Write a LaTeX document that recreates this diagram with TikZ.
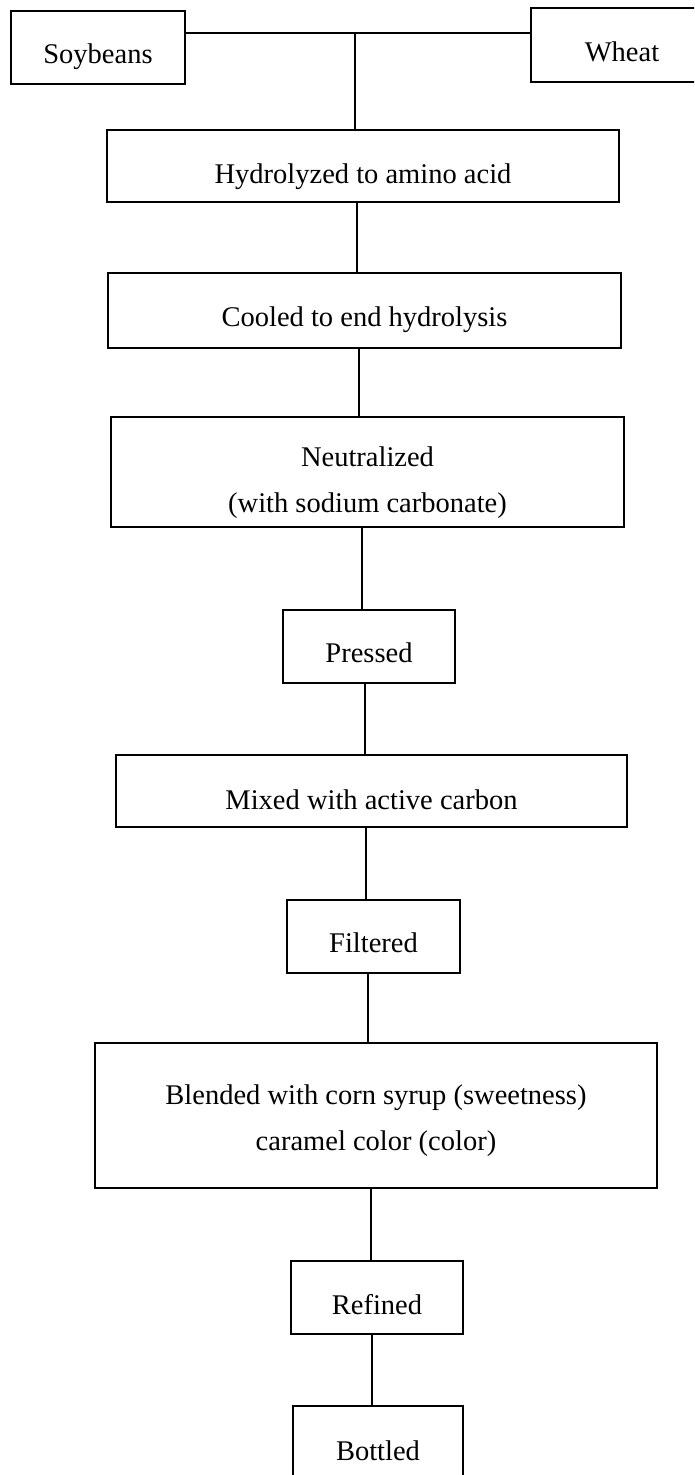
\documentclass[tikz,border=0pt]{standalone}
\usepackage{fontspec}
\setmainfont{Liberation Serif}
\begin{document}
\begin{tikzpicture}[x=1pt,y=-1pt,
  procbox/.style={draw=black, line width=1.6pt, inner sep=0pt},
  txt/.style={align=center, inner sep=0pt, font={\fontsize{28.5}{46}\selectfont}},
  link/.style={draw=black, line width=1.6pt}]
\clip (0,0) rectangle (694,1475);
\fill[white] (0,0) rectangle (694,1475);
\useasboundingbox (0,0) rectangle (694,1475);

\node[procbox, minimum width=174pt, minimum height=73pt,
  label={[txt, name=soyT, yshift=-9pt]center:Soybeans}] (soy) at (98,47.5) {};
\node[procbox, minimum width=182pt, minimum height=74pt,
  label={[txt, name=wheatT, yshift=-7pt]center:Wheat}] (wheat) at (622,45) {};
\node[procbox, minimum width=512pt, minimum height=72pt,
  label={[txt, name=hydT, yshift=-11pt]center:Hydrolyzed to amino acid}] (hyd) at (363,166) {};
\node[procbox, minimum width=513pt, minimum height=75pt,
  label={[txt, name=coolT, yshift=-9pt]center:Cooled to end hydrolysis}] (cool) at (364.5,310.5) {};
\node[procbox, minimum width=513pt, minimum height=110pt,
  label={[txt, name=neutT, yshift=-11pt]center:Neutralized\\(with sodium carbonate)}] (neut) at (367.5,472) {};
\node[procbox, minimum width=172pt, minimum height=73pt,
  label={[txt, name=pressT, yshift=-6pt]center:Pressed}] (press) at (369,646.5) {};
\node[procbox, minimum width=511pt, minimum height=72pt,
  label={[txt, name=mixT, yshift=-9pt]center:Mixed with active carbon}] (mix) at (371.5,791) {};
\node[procbox, minimum width=173pt, minimum height=73pt,
  label={[txt, name=filtT, yshift=-6pt]center:Filtered}] (filt) at (373.5,936.5) {};
\node[procbox, minimum width=562pt, minimum height=145pt,
  label={[txt, name=blendT, yshift=-5pt]center:Blended with corn syrup (sweetness)\\caramel color (color)}] (blend) at (376,1115.5) {};
\node[procbox, minimum width=172pt, minimum height=73pt,
  label={[txt, name=refT, yshift=-7pt]center:Refined}] (ref) at (377,1297.5) {};
\node[procbox, minimum width=170pt, minimum height=88pt,
  label={[txt, name=bottT, yshift=-1pt]center:Bottled}] (bott) at (378,1450) {};

\coordinate (j) at (355,33);
\coordinate (c1) at (357,0);
\coordinate (c2) at (359,0);
\coordinate (c3) at (362,0);
\coordinate (c4) at (365,0);
\coordinate (c5) at (366,0);
\coordinate (c6) at (368,0);
\coordinate (c7) at (371,0);
\coordinate (c8) at (372,0);
\draw[link] (soy.east |- j) -- (wheat.west |- j);
\draw[link] (j) -- (j |- hyd.north);
\draw[link] (c1 |- hyd.south) -- (c1 |- cool.north);
\draw[link] (c2 |- cool.south) -- (c2 |- neut.north);
\draw[link] (c3 |- neut.south) -- (c3 |- press.north);
\draw[link] (c4 |- press.south) -- (c4 |- mix.north);
\draw[link] (c5 |- mix.south) -- (c5 |- filt.north);
\draw[link] (c6 |- filt.south) -- (c6 |- blend.north);
\draw[link] (c7 |- blend.south) -- (c7 |- ref.north);
\draw[link] (c8 |- ref.south) -- (c8 |- bott.north);
\end{tikzpicture}
\end{document}
